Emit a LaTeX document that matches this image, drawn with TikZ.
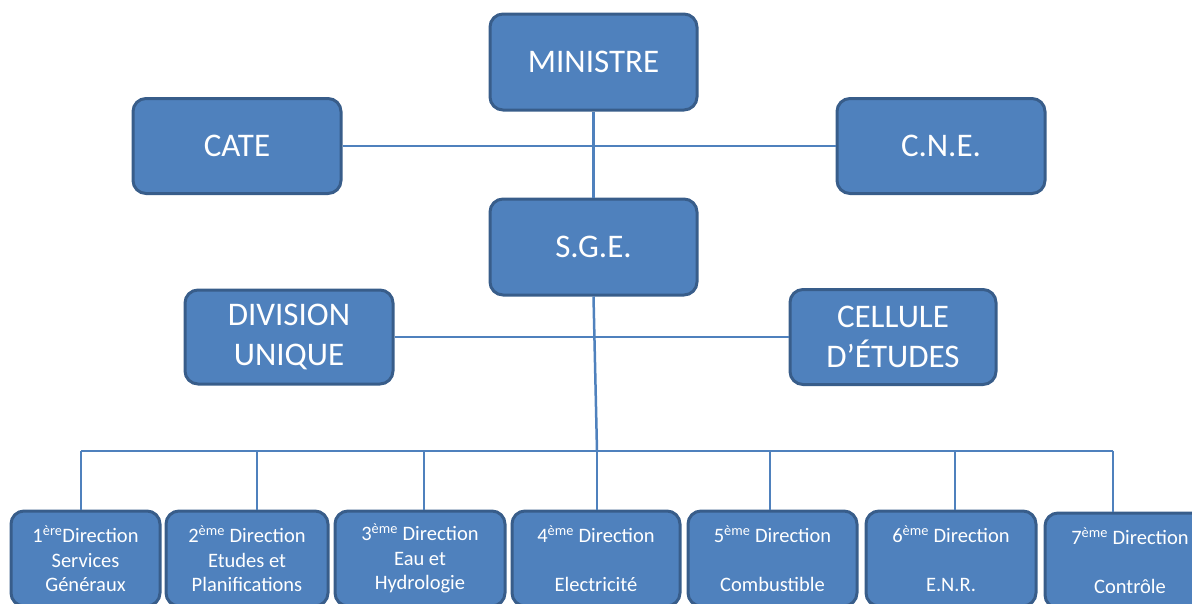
\documentclass[tikz,border=0pt]{standalone}
\usepackage{fontspec}
\setmainfont{Carlito}
\definecolor{boxfill}{HTML}{4F81BD}
\definecolor{boxline}{HTML}{385D8A}
\definecolor{conn}{HTML}{4F81BD}
\tikzset{
  bigbox/.style={rectangle, rounded corners=13pt, fill=boxfill, draw=boxline, line width=3pt,
    text=white, align=center, inner sep=0pt, font=\fontsize{33}{39.5}\selectfont},
  smallbox/.style={rectangle, rounded corners=13pt, fill=boxfill, draw=boxline, line width=3pt,
    text=white, align=center, inner sep=0pt, minimum height=95pt, font=\fontsize{20.5}{24.5}\selectfont},
  link/.style={draw=conn, line width=2.5pt}
}
\newcommand{\sx}[1]{\textsuperscript{#1}}
\begin{document}
\begin{tikzpicture}[x=1pt,y=-1pt]
\useasboundingbox (0,0) rectangle (1192,603);
\clip (0,0) rectangle (1192,603);
% connectors first
\coordinate (b1) at (81,451);
\coordinate (b2) at (257,451);
\coordinate (b3) at (424,451);
\coordinate (b4) at (597,451);
\coordinate (b5) at (770,451);
\coordinate (b6) at (955,451);
\coordinate (b7) at (1113,451);
% boxes
\node[bigbox, minimum width=207pt, minimum height=96pt] (min) at (593.5,62) {MINISTRE};
\node[bigbox, minimum width=208pt, minimum height=95pt] (cate) at (237,146) {CATE};
\node[bigbox, minimum width=208pt, minimum height=95pt] (cne) at (941,146) {C.N.E.};
\node[bigbox, minimum width=207pt, minimum height=96pt] (sge) at (593.5,247) {S.G.E.};
\node[bigbox, minimum width=208pt, minimum height=94pt] (div) at (289,337) {DIVISION\\UNIQUE};
\node[bigbox, minimum width=206pt, minimum height=95pt] (cel) at (893,337) {CELLULE\\D’ÉTUDES};
\node[smallbox, minimum width=149pt] (d1) at (85.5,558.5) {1\sx{ère}Direction\\Services\\Généraux};
\node[smallbox, minimum width=162pt] (d2) at (247,558.5) {2\sx{ème} Direction\\Etudes et\\Planifications};
\node[smallbox, minimum width=170pt] (d3) at (420,558.5) {3\sx{ème} Direction\\Eau et\\Hydrologie};
\node[smallbox, minimum width=168pt] (d4) at (596,558.5) {4\sx{ème} Direction\\[24.5pt]Electricité};
\node[smallbox, minimum width=169pt] (d5) at (772.5,558.5) {5\sx{ème} Direction\\[24.5pt]Combustible};
\node[smallbox, minimum width=170pt] (d6) at (951,558.5) {6\sx{ème} Direction\\[24.5pt]E.N.R.};
\node[smallbox, minimum width=170pt] (d7) at (1130,560.5) {7\sx{ème} Direction\\[24.5pt]Contrôle};
% links (drawn behind boxes)
\begin{scope}[on background layer/.style={}]
\end{scope}
\path[link] (min.south) -- (sge.north);
\path[link] (cate.east) -- (cne.west);
\path[link] (div.east) -- (cel.west);
\path[link] (sge.south) -- (b4);
\path[link] (b1) -- (b7);
\path[link] (b1) -- (b1 |- d1.north);
\path[link] (b2) -- (b2 |- d2.north);
\path[link] (b3) -- (b3 |- d3.north);
\path[link] (b4) -- (b4 |- d4.north);
\path[link] (b5) -- (b5 |- d5.north);
\path[link] (b6) -- (b6 |- d6.north);
\path[link] (b7) -- (b7 |- d7.north);
\end{tikzpicture}
\end{document}
